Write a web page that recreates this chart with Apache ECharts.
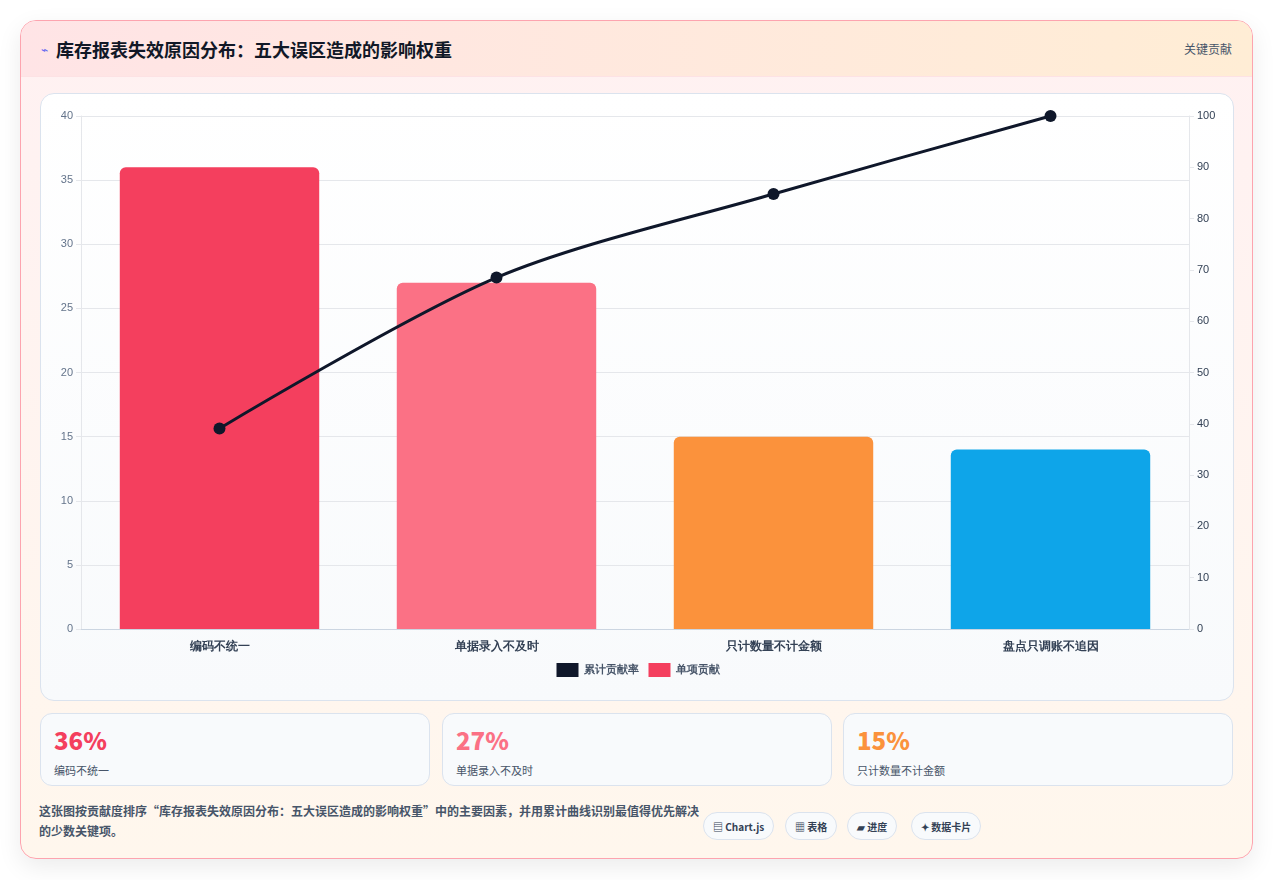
<!DOCTYPE html>
<html><head><meta charset="utf-8">
<script src="https://cdn.jsdelivr.net/npm/echarts@6/dist/echarts.min.js"></script>
<style>
*{box-sizing:border-box}
body{margin:0;width:1273px;height:880px;background:#fff;font-family:"Noto Sans CJK SC","Noto Sans",sans-serif;}
.wrap{position:absolute;left:20px;top:20px;width:1233px;height:839px;border:1px solid #fda4af;border-radius:16px;background:linear-gradient(180deg,#fff1f2 0%,#fff7ed 100%);box-shadow:0 8px 24px rgba(0,0,0,0.08);overflow:hidden}
.head{height:56px;background:linear-gradient(90deg,#ffe4e6,#ffedd5);border-bottom:1px solid #fde2e4;display:flex;align-items:center;padding:0 20px;}
.head h1{margin:0;font-size:18px;font-weight:700;color:#111827}
.head .ic{color:#6366f1;font-size:12px;margin-right:8px}
.head .tag{margin-left:auto;font-size:12px;color:#475569}
.card{position:absolute;left:19px;top:72px;width:1194px;height:608px;border:1px solid #dbe3ee;border-radius:14px;background:linear-gradient(180deg,#fff,#f8fafc)}
#c{position:absolute;left:0;top:0;width:1194px;height:608px}
.kpi{position:absolute;top:692px;width:390px;height:73px;border:1px solid #dbe3ee;border-radius:12px;background:#f8fafc;padding:10px 13px}
.kpi b{display:block;font-size:24px;font-weight:800;line-height:32px}
.kpi span{font-size:11px;color:#475569}
.foot{position:absolute;left:18px;top:780px;width:660px;font-size:12px;color:#475569;line-height:20px;font-weight:600}
.pill{position:absolute;top:791px;height:28px;border:1px solid #dbe3ee;border-radius:14px;background:#f8fafc;font-size:10px;font-weight:700;color:#334155;display:flex;align-items:center;padding:0 9px}
</style></head><body>
<div class="wrap">
<div class="head"><span class="ic">⌁</span><h1>库存报表失效原因分布：五大误区造成的影响权重</h1><span class="tag">关键贡献</span></div>
<div class="card"><div id="c"></div></div>
<div class="kpi" style="left:19px"><b style="color:#f43f5e">36%</b><span>编码不统一</span></div>
<div class="kpi" style="left:421px"><b style="color:#fb7185">27%</b><span>单据录入不及时</span></div>
<div class="kpi" style="left:822px"><b style="color:#fb923c">15%</b><span>只计数量不计金额</span></div>
<div class="foot">这张图按贡献度排序“库存报表失效原因分布：五大误区造成的影响权重”中的主要因素，并用累计曲线识别最值得优先解决的少数关键项。</div>
<div class="pill" style="left:682px">▤ Chart.js</div>
<div class="pill" style="left:764px">▦ 表格</div>
<div class="pill" style="left:826px">▰ 进度</div>
<div class="pill" style="left:890px">✦ 数据卡片</div>
</div>
<script>
const categories=["编码不统一","单据录入不及时","只计数量不计金额","盘点只调账不追因"];
const values=[36,27,15,14];
const cumulative=[39.1,68.5,84.8,100];
const barColors=["#f43f5e","#fb7185","#fb923c","#0ea5e9"];
const leftTicks={min:0,max:40,interval:5};
const rightTicks={min:0,max:100,interval:10};
const ch=echarts.init(document.getElementById('c'));
ch.setOption({
 animation:false,
 grid:{left:40,right:46,top:22,bottom:73},
 legend:{bottom:20,itemWidth:22,itemHeight:14,itemGap:10,textStyle:{fontSize:11,color:'#475569',fontWeight:600},data:[{name:'累计贡献率',icon:'rect',itemStyle:{color:'#0f172a'}},{name:'单项贡献',icon:'rect',itemStyle:{color:'#f43f5e'}}]},
 xAxis:{type:'category',data:categories,axisTick:{show:false},axisLine:{lineStyle:{color:'#cbd5e1'}},axisLabel:{fontSize:12,fontWeight:700,color:'#334155',margin:12}},
 yAxis:[
  {type:'value',...leftTicks,axisLine:{show:true,lineStyle:{color:'#e5e7eb'}},axisTick:{show:true,lineStyle:{color:'#e5e7eb'}},axisLabel:{fontSize:11,color:'#64748b'},splitLine:{lineStyle:{color:'#e5e7eb'}}},
  {type:'value',...rightTicks,position:'right',axisLine:{show:true,lineStyle:{color:'#e5e7eb'}},axisTick:{show:true,lineStyle:{color:'#e5e7eb'}},axisLabel:{fontSize:11,color:'#334155'},splitLine:{show:false}}
 ],
 series:[
  {name:'累计贡献率',type:'line',yAxisIndex:1,data:cumulative,smooth:0.3,symbol:'circle',symbolSize:12,lineStyle:{color:'#0f172a',width:3},itemStyle:{color:'#0f172a'},z:5},
  {name:'单项贡献',type:'bar',data:values.map((v,i)=>({value:v,itemStyle:{color:barColors[i]}})),barWidth:'72%',itemStyle:{borderRadius:[6,6,0,0]}}
 ]
});
</script>
</body></html>
